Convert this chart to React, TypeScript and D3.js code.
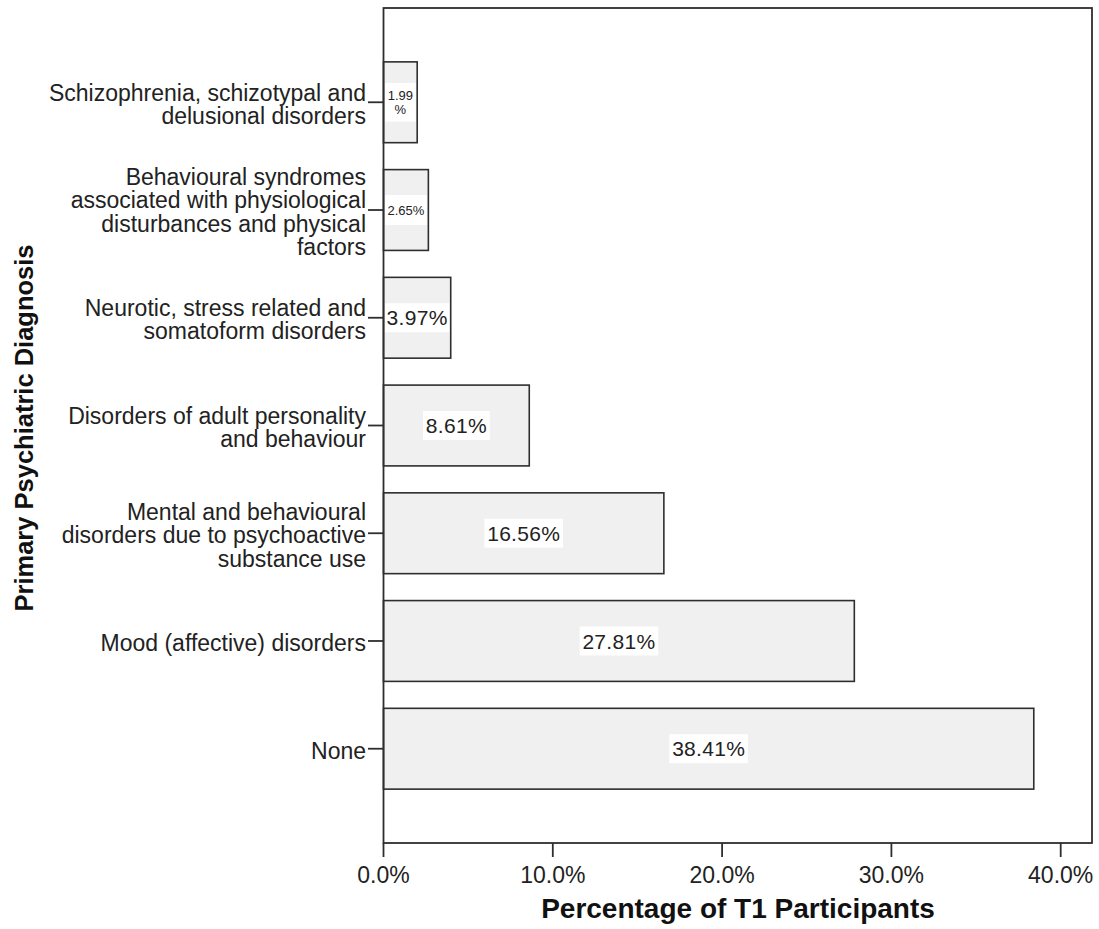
import React from "react";
import * as d3 from "d3";

const categories: string[][] = [
  ["Schizophrenia, schizotypal and", "delusional disorders"],
  ["Behavioural syndromes", "associated with physiological", "disturbances and physical", "factors"],
  ["Neurotic, stress related and", "somatoform disorders"],
  ["Disorders of adult personality", "and behaviour"],
  ["Mental and behavioural", "disorders due to psychoactive", "substance use"],
  ["Mood (affective) disorders"],
  ["None"],
];
const values: number[] = [1.99, 2.65, 3.97, 8.61, 16.56, 27.81, 38.41];
const xTicks: number[] = [0, 10, 20, 30, 40];

const W = 1099;
const H = 929;
const L = 383.5;
const R = 1092;
const T = 8;
const B = 843;
const FONT = "'Liberation Sans', Arial, Helvetica, sans-serif";
const LINE = "#2e2e2e";

export default function App() {
  const x = d3.scaleLinear().domain([0, 40]).range([L, 1060.7]);
  const y = d3
    .scaleBand<number>()
    .domain(d3.range(values.length))
    .range([T, B])
    .paddingInner(0.25)
    .paddingOuter(0.5);
  const bw = y.bandwidth();
  const fmt = (v: number) => v.toFixed(2) + "%";

  return (
    <svg
      width={W}
      height={H}
      style={{ position: "absolute", left: 0, top: 0, background: "#fff" }}
      fontFamily={FONT}
    >
      <rect x={0} y={0} width={W} height={H} fill="#fff" />
      {/* bars */}
      {values.map((v, i) => {
        const y0 = y(i)!;
        const x1 = x(v);
        const w = x1 - L;
        const cy = y0 + bw / 2;
        const cx = L + w / 2;
        let size = 21;
        let lines = [fmt(v)];
        if (w < 40) {
          size = 13;
          lines = [v.toFixed(2), "%"];
        } else if (w < 60) {
          size = 13;
        }
        const lh = size * 1.1;
        const textW = d3.max(lines, (s) => s.length * size * 0.56)!;
        let bx0 = cx - textW / 2 - 4;
        let bx1 = cx + textW / 2 + 4;
        bx0 = Math.max(bx0, L + 1.5);
        bx1 = Math.min(bx1, x1 - 1.5);
        const bh = lines.length > 1 ? lh * lines.length + 10 : size > 15 ? 29 : 30;
        return (
          <g key={i}>
            <rect x={L} y={y0} width={w} height={bw} fill="#f0f0f0" stroke={LINE} strokeWidth={1.6} />
            <rect x={bx0} y={cy - bh / 2} width={bx1 - bx0} height={bh} fill="#fff" />
            {lines.map((s, j) => (
              <text
                key={j}
                x={cx}
                y={cy + (j - (lines.length - 1) / 2) * lh + size * 0.36}
                textAnchor="middle"
                fontSize={size}
                fill="#222"
                letterSpacing={size > 15 ? 0.3 : 0}
              >
                {s}
              </text>
            ))}
          </g>
        );
      })}
      {/* frame */}
      <rect x={L} y={T} width={R - L} height={B - T} fill="none" stroke={LINE} strokeWidth={1.8} />
      {/* y ticks and labels */}
      {categories.map((lines, i) => {
        const cy = y(i)! + bw / 2;
        return (
          <g key={i}>
            <line x1={368} x2={L} y1={cy} y2={cy} stroke={LINE} strokeWidth={1.8} />
            {lines.map((s, j) => (
              <text
                key={j}
                x={366}
                y={cy + (j - (lines.length - 1) / 2) * 23.3 + 10}
                textAnchor="end"
                fontSize={23}
                fill="#222"
              >
                {s}
              </text>
            ))}
          </g>
        );
      })}
      {/* x ticks */}
      {xTicks.map((t) => (
        <g key={t}>
          <line x1={x(t)} x2={x(t)} y1={B} y2={B + 14} stroke={LINE} strokeWidth={1.8} />
          <text x={x(t)} y={882.5} textAnchor="middle" fontSize={23} fill="#222">
            {t.toFixed(1) + "%"}
          </text>
        </g>
      ))}
      <text x={738} y={917.5} textAnchor="middle" fontSize={28} fontWeight="bold" fill="#111">
        Percentage of T1 Participants
      </text>
      <text
        transform={`translate(33,428) rotate(-90)`}
        textAnchor="middle"
        fontSize={25.5}
        fontWeight="bold"
        fill="#111"
      >
        Primary Psychiatric Diagnosis
      </text>
    </svg>
  );
}
